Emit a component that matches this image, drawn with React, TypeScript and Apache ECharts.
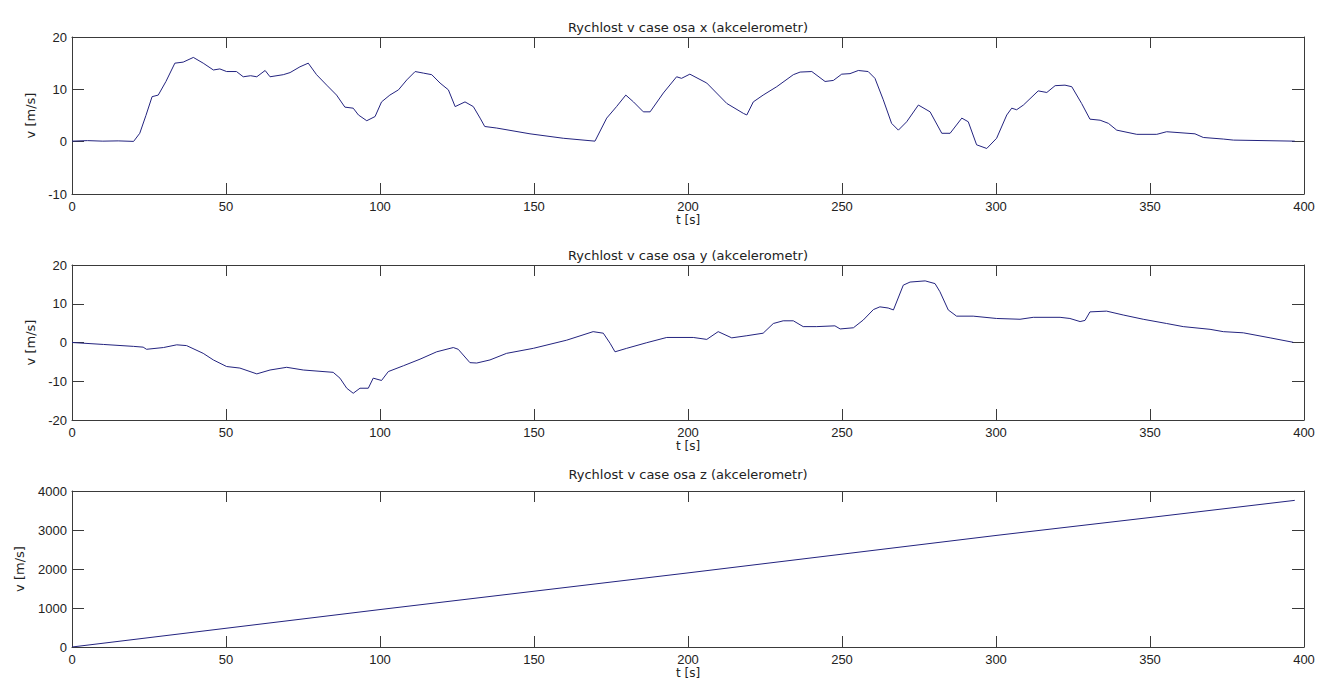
import React, { useEffect, useRef } from "react";
import * as echarts from "echarts";

const titles = [
  "Rychlost v case osa x (akcelerometr)",
  "Rychlost v case osa y (akcelerometr)",
  "Rychlost v case osa z (akcelerometr)",
];
const xAxisName = "t [s]";
const yAxisName = "v [m/s]";

const tX = [0, 5, 10, 15, 20, 22, 24, 26, 28, 30.5, 33.4, 36.1, 39.4, 42.6, 45.9, 48, 50.2, 53.4, 55.6, 58, 60, 62.7, 64.3, 68.6, 70.8, 74, 76.7, 79.4, 82.7, 85.9, 88.6, 91.3, 93, 95.7, 98.4, 100.5, 103.2, 106, 108.7, 111.4, 114.1, 116.8, 119.5, 122.2, 124.4, 127.6, 130.3, 132.5, 134, 137.9, 148.7, 159.5, 169.8, 173.6, 176.8, 179.8, 182.3, 185.5, 187.7, 192, 196.3, 197.9, 200.6, 206.1, 212.6, 218, 219.1, 221.2, 224.4, 228.8, 234.2, 236.4, 240.2, 244.5, 247.2, 249.9, 252.6, 255.3, 258.5, 260.7, 263.4, 266.1, 268.3, 271, 274.8, 278.6, 282.4, 285.1, 288.9, 291, 293.7, 297, 300.2, 303.5, 305.1, 306.7, 308.9, 313.7, 316.5, 319.2, 322.4, 324.6, 327.8, 330.5, 333.8, 336.5, 339.2, 345.7, 352.2, 355.4, 364.6, 367.3, 373.8, 377.1, 397];
const vX = [0.1, 0.2, 0.1, 0.15, 0.05, 1.6, 5, 8.6, 8.9, 11.5, 15.0, 15.2, 16.1, 15.0, 13.7, 13.9, 13.4, 13.4, 12.4, 12.6, 12.4, 13.6, 12.4, 12.8, 13.2, 14.3, 15.0, 12.8, 10.8, 8.9, 6.6, 6.4, 5.1, 4.0, 4.8, 7.6, 8.9, 9.9, 11.8, 13.4, 13.1, 12.8, 11.2, 9.9, 6.7, 7.6, 6.7, 4.5, 2.9, 2.6, 1.5, 0.65, 0.1, 4.5, 6.7, 8.9, 7.6, 5.7, 5.7, 9.3, 12.4, 12.1, 12.9, 11.2, 7.3, 5.4, 5.1, 7.6, 8.9, 10.5, 12.8, 13.3, 13.4, 11.5, 11.7, 12.9, 13.0, 13.6, 13.4, 12.1, 8.0, 3.5, 2.2, 3.8, 7.0, 5.7, 1.6, 1.6, 4.5, 3.8, -0.6, -1.3, 0.65, 5.1, 6.4, 6.1, 7.0, 9.7, 9.4, 10.7, 10.8, 10.5, 7.3, 4.3, 4.1, 3.5, 2.2, 1.4, 1.4, 1.9, 1.5, 0.8, 0.5, 0.3, 0.1];

const tY = [0, 10.2, 20, 23.1, 24.2, 29.7, 34, 37.2, 42.6, 45.9, 50.2, 54.5, 60, 64.3, 69.7, 75.1, 84.8, 87, 89.2, 91.3, 93.5, 96.2, 97.8, 100.5, 102.7, 107.6, 113, 118.4, 123.8, 125.4, 129.2, 131.4, 135.7, 141.1, 149.8, 160.6, 169.2, 172.5, 174.7, 176.3, 180.1, 186.6, 193.1, 201.7, 206.1, 209.8, 214.2, 219.1, 224.4, 227.7, 230.9, 234.2, 237.4, 241.8, 247.7, 249.4, 253.7, 256.9, 260.2, 262.3, 265, 266.7, 269.9, 272.1, 277, 280.2, 281.8, 284.5, 287.2, 292.6, 300.2, 307.8, 312.1, 320.8, 324, 327.3, 328.9, 330.5, 335.9, 341.3, 347.8, 355.4, 360.8, 369.5, 373.8, 380.3, 389, 396.5];
const vY = [0, -0.5, -1.0, -1.2, -1.75, -1.3, -0.6, -0.8, -2.8, -4.5, -6.2, -6.6, -8.1, -7.1, -6.4, -7.1, -7.7, -9.2, -11.8, -13.1, -11.8, -11.8, -9.2, -9.8, -7.5, -6.0, -4.3, -2.4, -1.3, -1.75, -5.2, -5.3, -4.5, -2.8, -1.5, 0.6, 2.8, 2.4, -0.2, -2.4, -1.5, -0.05, 1.3, 1.3, 0.8, 2.8, 1.2, 1.75, 2.4, 4.9, 5.6, 5.6, 4.1, 4.1, 4.3, 3.5, 3.8, 5.8, 8.5, 9.2, 8.9, 8.4, 14.8, 15.6, 15.9, 15.2, 13.1, 8.4, 6.8, 6.8, 6.2, 6.0, 6.5, 6.5, 6.2, 5.4, 5.7, 7.9, 8.1, 7.1, 6.0, 4.9, 4.1, 3.4, 2.8, 2.5, 1.2, 0.05];

const tZ = [0, 50, 100, 150, 200, 250, 300, 350, 397];
const vZ = [0, 480, 960, 1430, 1900, 2380, 2860, 3320, 3760];

const xTicks = { min: 0, max: 400, interval: 50 };
const yRanges = [
  { min: -10, max: 20, interval: 10 },
  { min: -20, max: 20, interval: 10 },
  { min: 0, max: 4000, interval: 1000 },
];

const FONT = "'Liberation Sans', Arial, sans-serif";
const TFONT = "'DejaVu Sans', sans-serif";
const AXIS_COLOR = "#3a3a3a";
const LINE_COLOR = "#23237f";

export default function App() {
  const ref = useRef<HTMLDivElement>(null);
  useEffect(() => {
    if (!ref.current) return;
    const chart = echarts.init(ref.current, undefined, { renderer: "svg" });
    const grids = [
      { left: 72, right: 26, top: 37, height: 157 },
      { left: 72, right: 26, top: 265, height: 155 },
      { left: 72, right: 26, top: 491, height: 156 },
    ];
    const yNameGaps = [33, 33, 46];
    const xNameGaps = [17, 17, 17];
    const titleTops = [21, 249, 468];
    const series = [
      { t: tX, v: vX },
      { t: tY, v: vY },
      { t: tZ, v: vZ },
    ];
    const xAxes: any[] = [];
    const yAxes: any[] = [];
    grids.forEach((_, i) => {
      const base = {
        gridIndex: i,
        type: "value",
        ...xTicks,
        axisLine: { show: true, onZero: false, lineStyle: { color: AXIS_COLOR, width: 1 } },
        axisTick: { show: true, inside: true, length: 11, lineStyle: { color: AXIS_COLOR } },
        splitLine: { show: false },
      };
      xAxes.push({
        ...base,
        position: "bottom",
        name: xAxisName,
        nameLocation: "middle",
        nameGap: xNameGaps[i],
        nameTextStyle: { color: "#222", fontSize: 12, fontFamily: TFONT },
        axisLabel: { show: true, margin: 6, color: "#222", fontSize: 13, fontFamily: FONT, showMinLabel: true, showMaxLabel: true, formatter: (v: number) => String(v) },
      });
      xAxes.push({ ...base, position: "top", axisLabel: { show: false } });
      const ybase = {
        gridIndex: i,
        type: "value",
        ...yRanges[i],
        axisLine: { show: true, onZero: false, lineStyle: { color: AXIS_COLOR, width: 1 } },
        axisTick: { show: true, inside: true, length: 12, lineStyle: { color: AXIS_COLOR } },
        splitLine: { show: false },
      };
      yAxes.push({
        ...ybase,
        position: "left",
        name: yAxisName,
        nameLocation: "middle",
        nameGap: yNameGaps[i],
        nameTextStyle: { color: "#222", fontSize: 13, fontFamily: TFONT },
        axisLabel: { show: true, margin: 5, color: "#222", fontSize: 13, fontFamily: FONT, showMinLabel: true, showMaxLabel: true, formatter: (v: number) => String(v) },
      });
      yAxes.push({ ...ybase, position: "right", axisLabel: { show: false } });
    });
    chart.setOption({
      animation: false,
      backgroundColor: "#ffffff",
      title: titles.map((text, i) => ({
        text,
        left: 688,
        top: titleTops[i],
        textAlign: "center",
        padding: 0,
        textStyle: { color: "#222", fontSize: 13, fontWeight: "normal", fontFamily: TFONT },
      })),
      grid: grids,
      xAxis: xAxes,
      yAxis: yAxes,
      series: series.map((s, i) => ({
        type: "line",
        xAxisIndex: 2 * i,
        yAxisIndex: 2 * i,
        data: s.t.map((t, k) => [t, s.v[k]]),
        showSymbol: false,
        symbol: "none",
        lineStyle: { color: LINE_COLOR, width: 1 },
        itemStyle: { color: LINE_COLOR },
      })),
    });
    return () => chart.dispose();
  }, []);
  return (
    <div
      ref={ref}
      style={{ position: "absolute", left: 0, top: 0, width: 1330, height: 691, background: "#fff" }}
    />
  );
}
